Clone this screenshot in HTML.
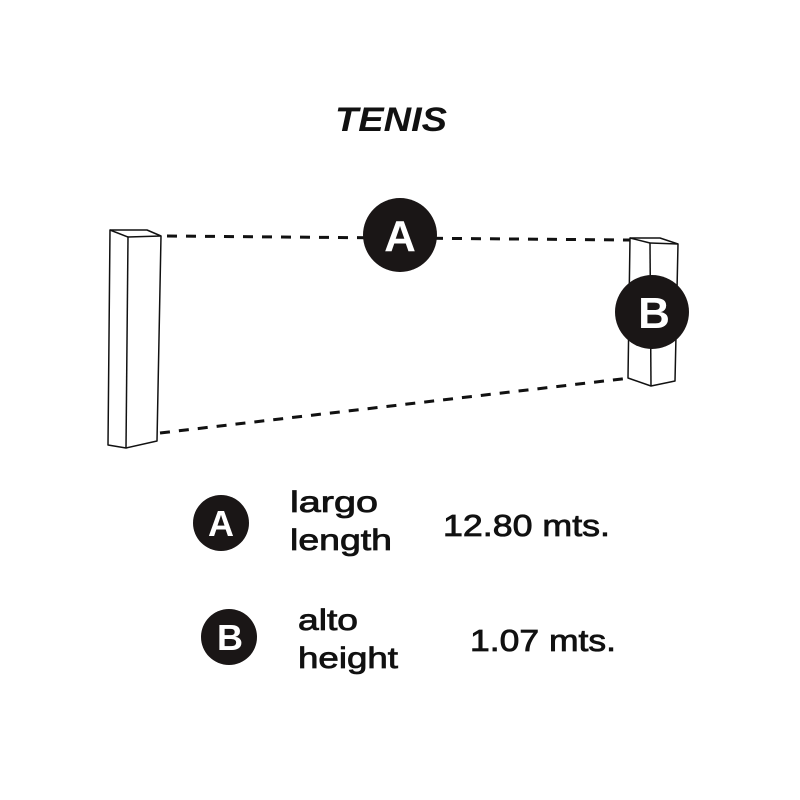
<!DOCTYPE html>
<html><head><meta charset="utf-8"><style>
html,body{margin:0;padding:0;background:#fff;}
svg{display:block;}
text{font-family:"Liberation Sans",sans-serif;fill:#111;}
.l{stroke:#111;stroke-width:0.8;}
</style></head><body>
<svg width="800" height="800" viewBox="0 0 800 800" xmlns="http://www.w3.org/2000/svg">
<rect width="800" height="800" fill="#fff"/>
<text x="335" y="131" font-size="34" font-weight="bold" font-style="italic" textLength="112" lengthAdjust="spacingAndGlyphs">TENIS</text>
<g fill="none" stroke="#111" stroke-width="1.5" stroke-linejoin="round">
<polygon points="110,230 147,230 161,236 157,441 126,448 108,445"/>
<line x1="110" y1="230" x2="128" y2="237"/>
<line x1="128" y1="237" x2="161" y2="236"/>
<line x1="128" y1="237" x2="126" y2="448"/>
<polygon points="630,238 660,238 678,244 675,381 651,386 628,378"/>
<line x1="630" y1="238" x2="650" y2="243"/>
<line x1="650" y1="243" x2="678" y2="244"/>
<line x1="650" y1="243" x2="651" y2="386"/>
</g>
<g stroke="#111" stroke-width="3" stroke-dasharray="10,9" fill="none">
<line x1="167" y1="236" x2="630" y2="240"/>
<line x1="160" y1="433" x2="630" y2="378"/>
</g>
<circle cx="400" cy="235" r="37" fill="#1a1616"/>
<text x="400" y="251" font-size="44" font-weight="bold" style="fill:#fff" text-anchor="middle">A</text>
<circle cx="652" cy="312" r="37" fill="#1a1616"/>
<text x="654" y="328" font-size="44" font-weight="bold" style="fill:#fff" text-anchor="middle">B</text>
<circle cx="221" cy="523" r="28" fill="#1a1616"/>
<text x="221" y="536" font-size="36" font-weight="bold" style="fill:#fff" text-anchor="middle">A</text>
<circle cx="229" cy="637" r="28" fill="#1a1616"/>
<text x="230" y="650" font-size="36" font-weight="bold" style="fill:#fff" text-anchor="middle">B</text>
<text class="l" x="290" y="512" font-size="30" textLength="88" lengthAdjust="spacingAndGlyphs">largo</text>
<text class="l" x="290" y="550" font-size="30" textLength="102" lengthAdjust="spacingAndGlyphs">length</text>
<text class="l" x="443" y="536" font-size="31" textLength="167" lengthAdjust="spacingAndGlyphs">12.80 mts.</text>
<text class="l" x="298" y="630" font-size="30" textLength="60" lengthAdjust="spacingAndGlyphs">alto</text>
<text class="l" x="298" y="668" font-size="30" textLength="100" lengthAdjust="spacingAndGlyphs">height</text>
<text class="l" x="470" y="651" font-size="31" textLength="146" lengthAdjust="spacingAndGlyphs">1.07 mts.</text>
</svg>
</body></html>
